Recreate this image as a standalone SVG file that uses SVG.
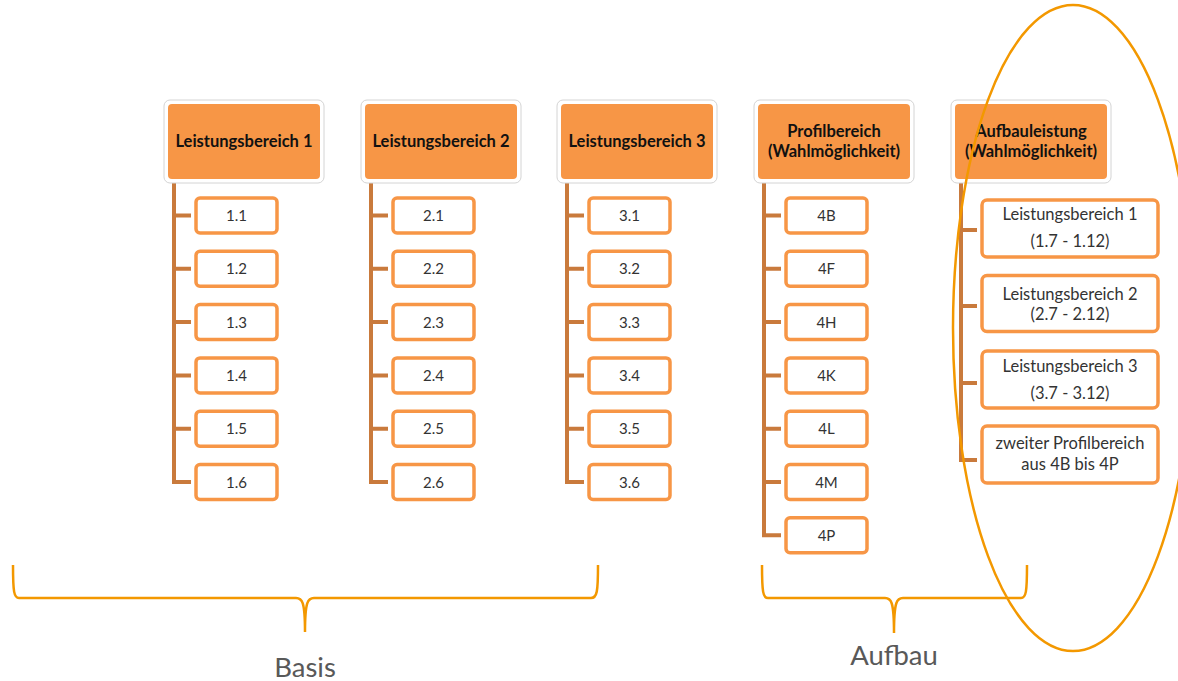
<svg xmlns="http://www.w3.org/2000/svg" width="1178" height="681" viewBox="0 0 1178 681">
<style>
.hdo{fill:#ffffff;stroke:#d4d4d4;stroke-width:1}
.hdi{fill:#F79646;stroke:none}
.ht{font-family:Lato,"Noto Sans",sans-serif;font-weight:bold;font-size:16.5px;fill:#111;text-anchor:middle}
.cb{fill:#ffffff;stroke:#F79646;stroke-width:3.5}
.ct{font-family:Lato,"Noto Sans",sans-serif;font-size:15px;fill:#333;text-anchor:middle}
.cw{font-family:Lato,"Noto Sans",sans-serif;font-size:16.5px;fill:#333;text-anchor:middle}
.ln{fill:none;stroke:#C97A3C;stroke-width:4}
.br{fill:none;stroke:#F39800;stroke-width:2.5}
.lb{font-family:Lato,"Noto Sans",sans-serif;font-size:27.5px;fill:#595959;text-anchor:middle}
</style>
<g id="connectors">
<path class="ln" d="M174,183 V482 H191 M174,215.5 H191 M174,268.8 H191 M174,322.1 H191 M174,375.4 H191 M174,428.7 H191"/>
<path class="ln" d="M371,183 V482 H388 M371,215.5 H388 M371,268.8 H388 M371,322.1 H388 M371,375.4 H388 M371,428.7 H388"/>
<path class="ln" d="M567,183 V482 H584 M567,215.5 H584 M567,268.8 H584 M567,322.1 H584 M567,375.4 H584 M567,428.7 H584"/>
<path class="ln" d="M764,183 V535.3 H781 M764,215.5 H781 M764,268.8 H781 M764,322.1 H781 M764,375.4 H781 M764,428.7 H781 M764,482 H781"/>
<path class="ln" d="M961,183 V460 H977 M961,230 H977 M961,306 H977 M961,383 H977"/>
</g>
<g id="h1"><rect class="hdo" x="164" y="100" width="160" height="83" rx="6"/><rect class="hdi" x="168" y="104" width="152" height="75" rx="4"/><text class="ht" x="244" y="147">Leistungsbereich 1</text></g>
<g id="h2"><rect class="hdo" x="361" y="100" width="160" height="83" rx="6"/><rect class="hdi" x="365" y="104" width="152" height="75" rx="4"/><text class="ht" x="441" y="147">Leistungsbereich 2</text></g>
<g id="h3"><rect class="hdo" x="557" y="100" width="160" height="83" rx="6"/><rect class="hdi" x="561" y="104" width="152" height="75" rx="4"/><text class="ht" x="637" y="147">Leistungsbereich 3</text></g>
<g id="h4"><rect class="hdo" x="754" y="100" width="160" height="83" rx="6"/><rect class="hdi" x="758" y="104" width="152" height="75" rx="4"/><text class="ht" x="834" y="137">Profilbereich</text><text class="ht" x="834" y="157">(Wahlmöglichkeit)</text></g>
<g id="h5"><rect class="hdo" x="951" y="100" width="160" height="83" rx="6"/><rect class="hdi" x="955" y="104" width="152" height="75" rx="4"/><text class="ht" x="1031" y="137">Aufbauleistung</text><text class="ht" x="1031" y="157">(Wahlmöglichkeit)</text></g>
<g id="n11"><rect class="cb" x="196" y="198" width="81" height="35" rx="4"/><text class="ct" x="236.5" y="221">1.1</text></g>
<g id="n12"><rect class="cb" x="196" y="251.3" width="81" height="35" rx="4"/><text class="ct" x="236.5" y="274.3">1.2</text></g>
<g id="n13"><rect class="cb" x="196" y="304.6" width="81" height="35" rx="4"/><text class="ct" x="236.5" y="327.6">1.3</text></g>
<g id="n14"><rect class="cb" x="196" y="357.9" width="81" height="35" rx="4"/><text class="ct" x="236.5" y="380.9">1.4</text></g>
<g id="n15"><rect class="cb" x="196" y="411.2" width="81" height="35" rx="4"/><text class="ct" x="236.5" y="434.2">1.5</text></g>
<g id="n16"><rect class="cb" x="196" y="464.5" width="81" height="35" rx="4"/><text class="ct" x="236.5" y="487.5">1.6</text></g>
<g id="n21"><rect class="cb" x="393" y="198" width="81" height="35" rx="4"/><text class="ct" x="433.5" y="221">2.1</text></g>
<g id="n22"><rect class="cb" x="393" y="251.3" width="81" height="35" rx="4"/><text class="ct" x="433.5" y="274.3">2.2</text></g>
<g id="n23"><rect class="cb" x="393" y="304.6" width="81" height="35" rx="4"/><text class="ct" x="433.5" y="327.6">2.3</text></g>
<g id="n24"><rect class="cb" x="393" y="357.9" width="81" height="35" rx="4"/><text class="ct" x="433.5" y="380.9">2.4</text></g>
<g id="n25"><rect class="cb" x="393" y="411.2" width="81" height="35" rx="4"/><text class="ct" x="433.5" y="434.2">2.5</text></g>
<g id="n26"><rect class="cb" x="393" y="464.5" width="81" height="35" rx="4"/><text class="ct" x="433.5" y="487.5">2.6</text></g>
<g id="n31"><rect class="cb" x="589" y="198" width="81" height="35" rx="4"/><text class="ct" x="629.5" y="221">3.1</text></g>
<g id="n32"><rect class="cb" x="589" y="251.3" width="81" height="35" rx="4"/><text class="ct" x="629.5" y="274.3">3.2</text></g>
<g id="n33"><rect class="cb" x="589" y="304.6" width="81" height="35" rx="4"/><text class="ct" x="629.5" y="327.6">3.3</text></g>
<g id="n34"><rect class="cb" x="589" y="357.9" width="81" height="35" rx="4"/><text class="ct" x="629.5" y="380.9">3.4</text></g>
<g id="n35"><rect class="cb" x="589" y="411.2" width="81" height="35" rx="4"/><text class="ct" x="629.5" y="434.2">3.5</text></g>
<g id="n36"><rect class="cb" x="589" y="464.5" width="81" height="35" rx="4"/><text class="ct" x="629.5" y="487.5">3.6</text></g>
<g id="n4B"><rect class="cb" x="786" y="198" width="81" height="35" rx="4"/><text class="ct" x="826.5" y="221">4B</text></g>
<g id="n4F"><rect class="cb" x="786" y="251.3" width="81" height="35" rx="4"/><text class="ct" x="826.5" y="274.3">4F</text></g>
<g id="n4H"><rect class="cb" x="786" y="304.6" width="81" height="35" rx="4"/><text class="ct" x="826.5" y="327.6">4H</text></g>
<g id="n4K"><rect class="cb" x="786" y="357.9" width="81" height="35" rx="4"/><text class="ct" x="826.5" y="380.9">4K</text></g>
<g id="n4L"><rect class="cb" x="786" y="411.2" width="81" height="35" rx="4"/><text class="ct" x="826.5" y="434.2">4L</text></g>
<g id="n4M"><rect class="cb" x="786" y="464.5" width="81" height="35" rx="4"/><text class="ct" x="826.5" y="487.5">4M</text></g>
<g id="n4P"><rect class="cb" x="786" y="517.8" width="81" height="35" rx="4"/><text class="ct" x="826.5" y="540.8">4P</text></g>
<g id="n51"><rect class="cb" x="982" y="200" width="176" height="57" rx="5"/><text class="cw" x="1070" y="220">Leistungsbereich 1</text><text class="cw" x="1070" y="247">(1.7 - 1.12)</text></g>
<g id="n52"><rect class="cb" x="982" y="275.5" width="176" height="56" rx="5"/><text class="cw" x="1070" y="300">Leistungsbereich 2</text><text class="cw" x="1070" y="320">(2.7 - 2.12)</text></g>
<g id="n53"><rect class="cb" x="982" y="351" width="176" height="57" rx="5"/><text class="cw" x="1070" y="372">Leistungsbereich 3</text><text class="cw" x="1070" y="399">(3.7 - 3.12)</text></g>
<g id="n54"><rect class="cb" x="982" y="426" width="176" height="57" rx="5"/><text class="cw" x="1070" y="449">zweiter Profilbereich</text><text class="cw" x="1070" y="470">aus 4B bis 4P</text></g>
<g id="basis">
<path class="br" d="M13,565 C13,592 14,598 19,598 L296,598 C302,598 305,601 305,632 C305,601 308,598 314,598 L591,598 C597,598 598,592 598,565"/>
<text class="lb" x="305" y="677">Basis</text>
</g>
<g id="aufbau">
<path class="br" d="M762,565 C762,592 763,598 768,598 L885,598 C891,598 894,601 894,633 C894,601 897,598 903,598 L1021,598 C1026,598 1027,592 1027,565"/>
<text class="lb" x="894" y="665">Aufbau</text>
</g>
<g id="highlight">
<ellipse class="br" cx="1073" cy="328" rx="120" ry="323"/>
</g>
</svg>
